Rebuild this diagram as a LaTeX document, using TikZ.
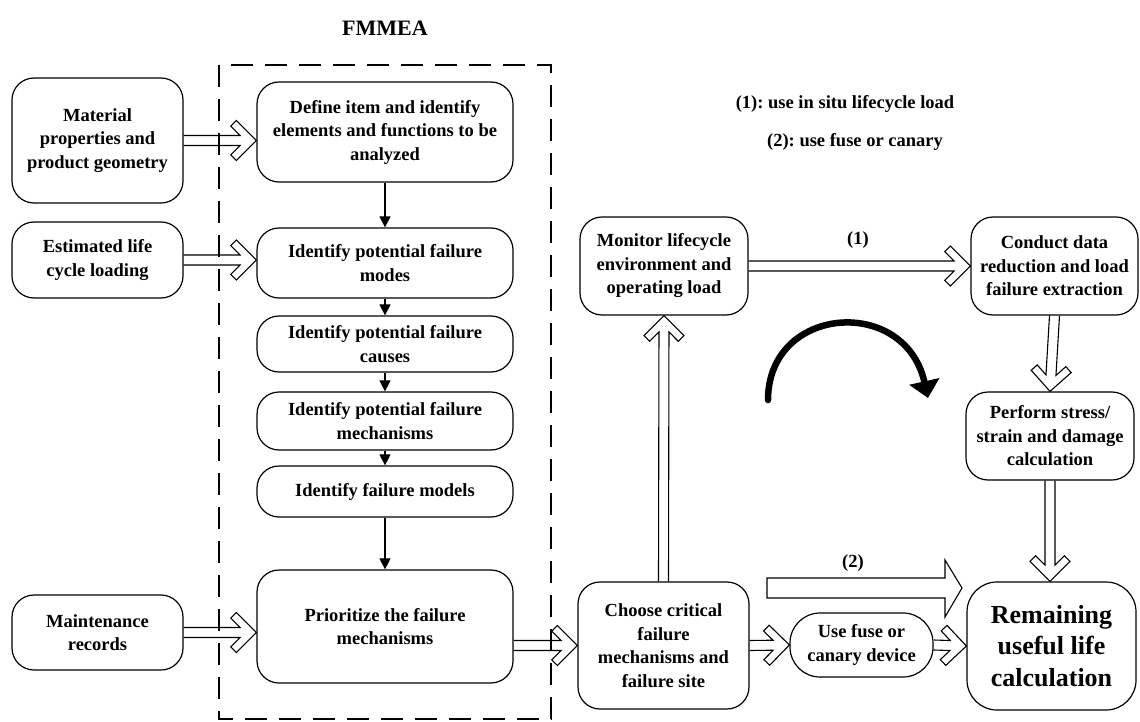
\documentclass[tikz,border=0pt]{standalone}
\usepackage{fontspec}
\setmainfont{Liberation Serif}
\usetikzlibrary{calc,arrows.meta}
\frenchspacing

% open double-line arrow with a chevron head, from #1 to #2 (tip at #2)
\newcommand\hollowarrow[2]{%
  \draw[hollow] ($(#1)!5pt!-90:(#2)$)
    -- ($(#2)!17.07pt!17.03:(#1)$)
    -- ($(#2)!29.40pt!29.2:(#1)$)
    -- ($(#2)!28.28pt!45:(#1)$)
    -- (#2)
    -- ($(#2)!28.28pt!-45:(#1)$)
    -- ($(#2)!29.40pt!-29.2:(#1)$)
    -- ($(#2)!17.07pt!-17.03:(#1)$)
    -- ($(#1)!5pt!90:(#2)$);}

\tikzset{
  box/.style={draw, line width=1.2pt, rounded corners=22pt, align=center,
    inner sep=0pt, font=\bfseries\fontsize{18.5}{23.5}\selectfont},
  bigbox/.style={box, rounded corners=30pt,
    font=\bfseries\fontsize{26}{31.5}\selectfont},
  hollow/.style={draw, line width=1.1pt, line join=miter},
  flow/.style={draw, line width=1.1pt, -{Triangle[width=11pt,length=11pt]}},
  frame/.style={draw, line width=2.6pt, dash pattern=on 22pt off 12pt},
  note/.style={font=\bfseries\fontsize{18.5}{23.5}\selectfont}
}

\begin{document}
\begin{tikzpicture}[x=1pt,y=-1pt]
\useasboundingbox (0,0) rectangle (1140,722);

% FMMEA group
\node[font=\bfseries\fontsize{22}{26}\selectfont] (title) at (385,28) {FMMEA};
\draw[frame] (219,65) rectangle (551,719);

% input boxes
\node[box, minimum width=171pt, minimum height=125pt] (mat) at (97.5,140.5)
  {Material\\properties and\\product geometry};
\node[box, minimum width=171pt, minimum height=76pt] (est) at (97.5,260)
  {Estimated life\\cycle loading};
\node[box, minimum width=171pt, minimum height=75pt] (mnt) at (97.5,632.5)
  {Maintenance\\records};

% FMMEA steps
\node[box, minimum width=256pt, minimum height=100pt] (b1) at (385,132)
  {Define item and identify\\elements and functions to be\\analyzed};
\node[box, minimum width=256pt, minimum height=70pt] (b2) at (385,263)
  {Identify potential failure\\modes};
\node[box, minimum width=256pt, minimum height=56pt] (b3) at (385,344)
  {Identify potential failure\\causes};
\node[box, minimum width=256pt, minimum height=58pt] (b4) at (385,421)
  {Identify potential failure\\mechanisms};
\node[box, minimum width=256pt, minimum height=51pt] (b5) at (385,491.5)
  {Identify failure models};
\node[box, minimum width=256pt, minimum height=113pt] (b6) at (385,626.5)
  {Prioritize the failure\\mechanisms};

% prognostics boxes
\node[box, minimum width=168pt, minimum height=98pt] (mon) at (664,266)
  {Monitor lifecycle\\environment and\\operating load};
\node[box, minimum width=167pt, minimum height=98pt] (con) at (1054.5,266)
  {Conduct data\\reduction and load\\failure extraction};
\node[box, minimum width=168pt, minimum height=88pt] (per) at (1050,436)
  {Perform stress/\\strain and damage\\calculation};
\node[box, minimum width=171pt, minimum height=127pt] (cho) at (663.5,645.5)
  {Choose critical\\failure\\mechanisms and\\failure site};
\node[box, rounded corners=30pt, minimum width=143pt, minimum height=64pt] (fuse) at (861.5,645)
  {Use fuse or\\canary device};
\node[bigbox, minimum width=169pt, minimum height=128pt] (rem) at (1051.5,646)
  {Remaining\\useful life\\calculation};

% legend and path labels
\node[note] (leg1) at (845,104) {(1): use in situ lifecycle load};
\node[note] (leg2) at (855,142) {(2): use fuse or canary};
\node[note] (lab1) at (858,240) {(1)};
\node[note] (lab2) at (853,563) {(2)};

% step flow inside FMMEA
\draw[flow] (b1.south) -- (b2.north);
\draw[flow] (b2.south) -- (b3.north);
\draw[flow] (b3.south) -- (b4.north);
\draw[flow] (b4.south) -- (b5.north);
\draw[flow] (b5.south) -- (b6.north);

% end points of the horizontal hollow arrows
\coordinate (t1) at (mat.east -| b1.west);
\coordinate (t2) at (est.east -| b2.west);
\coordinate (t3) at (mnt.east -| b6.west);
\coordinate (s4) at (cho.west -| b6.east);
\coordinate (t5) at (mon.east -| con.west);
\coordinate (t6) at (per.south |- rem.north);

\hollowarrow{mat.east}{t1}
\hollowarrow{est.east}{t2}
\hollowarrow{mnt.east}{t3}
\hollowarrow{s4}{cho.west}
\hollowarrow{cho.north}{mon.south}
\hollowarrow{mon.east}{t5}
\hollowarrow{con.south}{per.north}
\hollowarrow{per.south}{t6}
\hollowarrow{cho.east}{fuse.west}
\hollowarrow{fuse.east}{rem.west}

% wide block arrow for path (2)
\coordinate (bt) at (962,588);
\draw[hollow] (767,578) -- (945,578) -- (945,560) -- (bt) -- (945,617)
  -- (945,598) -- (767,598) -- cycle;

% cycle arrow
\draw[line width=6.5pt, line cap=round, -{Triangle[width=30pt,length=17pt]}]
  (768,400) .. controls (768,305) and (905,295) .. (928,398);
\end{tikzpicture}
\end{document}
